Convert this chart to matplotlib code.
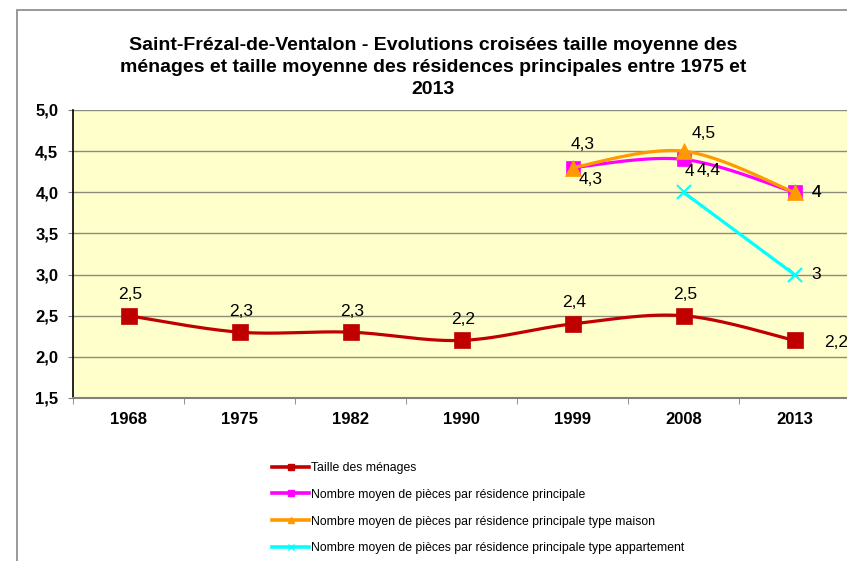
import numpy as np
import matplotlib
matplotlib.use("Agg")
import matplotlib.pyplot as plt
from matplotlib.lines import Line2D
from matplotlib.patches import Rectangle

plt.rcParams['font.family'] = ['Liberation Sans', 'DejaVu Sans']

years = ["1968", "1975", "1982", "1990", "1999", "2008", "2013"]
y_ticks = [1.5, 2.0, 2.5, 3.0, 3.5, 4.0, 4.5, 5.0]
menages = [2.5, 2.3, 2.3, 2.2, 2.4, 2.5, 2.2]
pieces_rp = [None, None, None, None, 4.3, 4.4, 4.0]
pieces_maison = [None, None, None, None, 4.3, 4.5, 4.0]
pieces_appart = [None, None, None, None, None, 4.0, 3.0]
label_names = ["Taille des ménages",
               "Nombre moyen de pièces par résidence principale",
               "Nombre moyen de pièces par résidence principale type maison",
               "Nombre moyen de pièces par résidence principale type appartement"]


def smooth(xs, ys, n=30):
    xs = np.asarray(xs, float); ys = np.asarray(ys, float)
    if len(xs) < 3:
        return xs, ys
    P = np.column_stack([xs, ys])
    out = []
    for i in range(len(P) - 1):
        p0 = P[i - 1] if i > 0 else P[i]
        p1 = P[i]; p2 = P[i + 1]
        p3 = P[i + 2] if i + 2 < len(P) else P[i + 1]
        c1 = p1 + (p2 - p0) / 6.0
        c2 = p2 - (p3 - p1) / 6.0
        t = np.linspace(0, 1, n)[:, None]
        seg = (1 - t) ** 3 * p1 + 3 * (1 - t) ** 2 * t * c1 + 3 * (1 - t) * t ** 2 * c2 + t ** 3 * p2
        out.append(seg if i == 0 else seg[1:])
    out = np.vstack(out)
    return out[:, 0], out[:, 1]


W, H = 847, 561
fig = plt.figure(figsize=(W / 100, H / 100), dpi=100)
fig.patch.set_facecolor('white')
fig.patches.append(Rectangle((17 / W, -0.2), 2, (H - 10) / H + 0.2, transform=fig.transFigure,
                             fill=False, edgecolor='#888888', linewidth=1.2))

ax = fig.add_axes([73 / W, (H - 398) / H, 777 / W, 288 / H])
ax.set_facecolor('#FFFFCC')
ax.set_xlim(-0.5, 6.5)
ax.set_ylim(1.5, 5.0)

for yv in y_ticks[1:]:
    ax.axhline(yv, color='#8C8C7A', linewidth=1.0, zorder=1)

series = [
    (menages, '#C00000', 's', 11, label_names[0]),
    (pieces_rp, '#FF00FF', 's', 10.5, label_names[1]),
    (pieces_maison, '#FF9900', '^', 11, label_names[2]),
    (pieces_appart, '#00FFFF', 'x', 10, label_names[3]),
]
for z, (vals, col, mk, ms, nm) in enumerate(series):
    idx = [i for i, v in enumerate(vals) if v is not None]
    vv = [vals[i] for i in idx]
    sx, sy = smooth(idx, vv)
    ax.plot(sx, sy, color=col, linewidth=2.3, zorder=3 + z, solid_capstyle='round')
    ax.plot(idx, vv, linestyle='none', marker=mk, markersize=ms, color=col,
            markeredgewidth=1.5 if mk == 'x' else 0.5, zorder=3 + z)


def fmt(v):
    s = ('%.1f' % v).replace('.', ',')
    if s.endswith(',0'):
        s = s[:-2]
    return s


def lab(i, v, dx, dy):
    ax.annotate(fmt(v), (i, v), xytext=(dx, dy), textcoords='offset pixels',
                ha='center', va='center', fontsize=12.5, color='black', zorder=10)


for i, v in enumerate(menages):
    if i < 6:
        lab(i, v, 2, 21)
    else:
        lab(i, v, 42, -2)
offs_rp = {4: (18, -12), 5: (25, -11), 6: (22, 0)}
offs_m = {4: (10, 23), 5: (20, 18), 6: (22, 0)}
offs_a = {5: (6, 21), 6: (22, 0)}
for vals, offs in [(pieces_rp, offs_rp), (pieces_maison, offs_m), (pieces_appart, offs_a)]:
    for i, (dx, dy) in offs.items():
        lab(i, vals[i], dx, dy)

ax.set_yticks(y_ticks)
ax.set_yticklabels([('%.1f' % v).replace('.', ',') for v in y_ticks], fontsize=12, fontweight='bold')
ax.set_xticks(range(7))
ax.set_xticklabels(years, fontsize=12, fontweight='bold')
ax.tick_params(axis='x', length=0, pad=10)
ax.set_xticks(np.arange(-0.5, 6.6, 1), minor=True)
ax.tick_params(axis='x', which='minor', length=4, color='#808080')
ax.tick_params(axis='y', length=3.6, pad=7, color='#808080')
for s in ['top', 'right']:
    ax.spines[s].set_visible(False)
ax.spines['left'].set_color('black')
ax.spines['left'].set_linewidth(1.2)
ax.spines['bottom'].set_color('#808080')
ax.spines['bottom'].set_linewidth(1.5)

title_lines = ["Saint-Frézal-de-Ventalon - Evolutions croisées taille moyenne des",
               "ménages et taille moyenne des résidences principales entre 1975 et",
               "2013"]
for k, t in enumerate(title_lines):
    fig.text(433 / W, 1 - (46 + 21.5 * k) / H, t, ha='center', va='center',
             fontsize=14.0, fontweight='bold')

handles = []
for vals, col, mk, ms, nm in series:
    handles.append(Line2D([0], [0], color=col, linewidth=2.6, marker=mk, markersize=4.5,
                          markeredgewidth=1.0))
fig.legend(handles, label_names, loc='upper left', bbox_to_anchor=(272 / W, 1 - 462 / H),
           frameon=False, fontsize=8.85, handlelength=3.05, handletextpad=0.15,
           labelspacing=1.2, borderpad=0, borderaxespad=0)

fig.savefig('out.png', dpi=100)
